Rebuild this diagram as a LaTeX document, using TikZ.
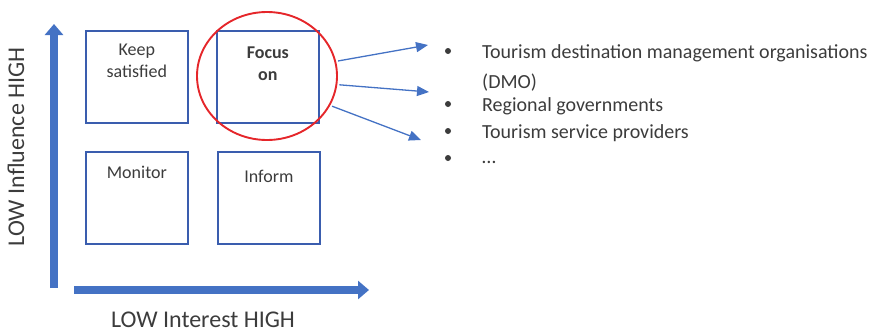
\documentclass[tikz,border=0pt]{standalone}
\usepackage{fontspec}
\setmainfont{Carlito}
\usepackage{xcolor}
\usetikzlibrary{calc,arrows.meta,shapes.geometric}
\definecolor{axis}{HTML}{4472C4}
\definecolor{frame}{HTML}{3A5DAE}
\definecolor{ring}{HTML}{E5262A}
\definecolor{ink}{HTML}{3C3C3C}
\tikzset{
  quad/.style={draw=frame, line width=1.7pt, minimum width=102pt, minimum height=92pt,
    anchor=north west, inner sep=0pt},
  quadtext/.style={anchor=north, align=center, text=ink, inner sep=0pt,
    font=\fontsize{18}{22}\selectfont},
  axisarrow/.style={color=axis, line width=7.5pt,
    -{Triangle[length=11pt,width=18pt]}},
  pointer/.style={color=axis, line width=1.3pt, -{Triangle[length=12pt,width=10pt]}},
  item/.style={anchor=base west, text=ink, inner sep=0pt,
    font=\fontsize{20}{24}\selectfont},
  axislabel/.style={text=ink, inner sep=0pt, font=\fontsize{24}{28}\selectfont}
}
\newcommand{\Quadrant}[5]{%
  \node[quad] (#1) at (#2,#3) {};
  \node[quadtext] (#1-text) at ($(#1.north)+(0,#4)$) {#5};
}

\begin{document}
\begin{tikzpicture}[x=1pt,y=-1pt]
  \useasboundingbox (0,0) rectangle (882,335);
  % axes
  \coordinate (vlow) at (54,288);
  \coordinate (vhigh) at (54,24);
  \coordinate (hlow) at (74,290);
  \coordinate (hhigh) at (369,290);
  \draw[axisarrow] (vlow) -- (vhigh);
  \draw[axisarrow] (hlow) -- (hhigh);
  \node[axislabel,rotate=90] (influence) at (16,147) {LOW Influence HIGH};
  \node[axislabel] (interest) at (203,320) {LOW Interest HIGH};
  % quadrants
  \Quadrant{keep}{85}{30}{14}{Keep\\satisfied}
  \Quadrant{focus}{216}{30}{17}{\textbf{Focus}\\\textbf{on}}
  \Quadrant{monitor}{85}{151}{15}{Monitor}
  \Quadrant{inform}{217}{151}{19}{Inform}
  \node[draw=ring, line width=1.9pt, ellipse, minimum width=140pt, minimum height=128pt]
    (focusring) at (267,76) {};
  % stakeholder list
  \node[item] (dmo) at (482,58) {Tourism destination management organisations};
  \node[item] (dmo2) at (482,88) {(DMO)};
  \node[item] (regional) at (482,111) {Regional governments};
  \node[item] (service) at (482,138) {Tourism service providers};
  \node[item] (more) at (482,163) {\dots};
  \foreach \y in {51,104,131,158}
    \fill[color=ink] (448,\y) circle (3pt);
  \coordinate (t1) at (428,45);
  \coordinate (t2) at (429,92);
  \coordinate (t3) at (421,140);
  \draw[pointer,shorten <=2pt] (focusring.12) -- (t1);
  \draw[pointer,shorten <=2pt] (focusring.-7) -- (t2);
  \draw[pointer,shorten <=2pt] (focusring.-25) -- (t3);
\end{tikzpicture}
\end{document}
